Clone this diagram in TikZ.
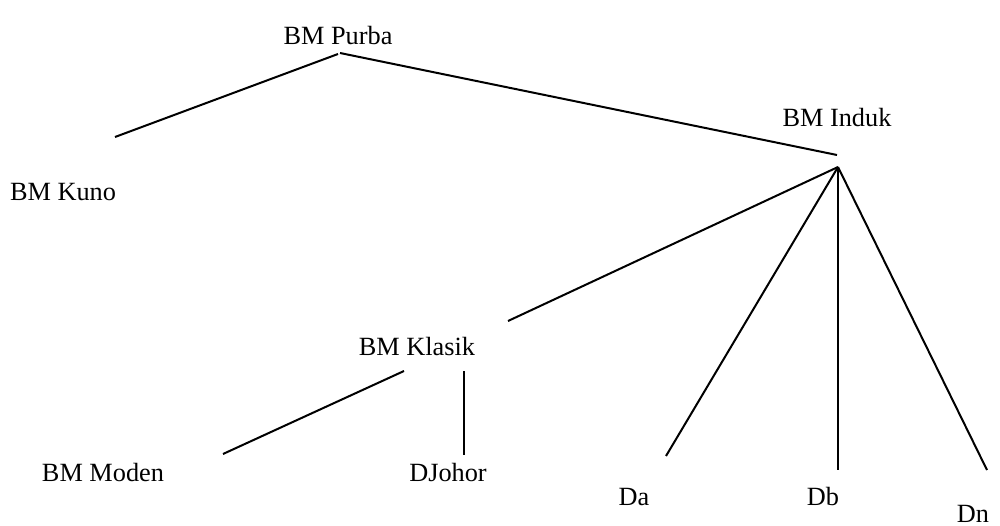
\documentclass[tikz,border=0pt]{standalone}
\usepackage{fontspec}
\setmainfont{Liberation Serif}
\begin{document}
\begin{tikzpicture}[x=1pt,y=-1pt,
  lbl/.style={anchor=base, inner sep=0pt, font=\fontsize{26.3}{30}\selectfont},
  edge/.style={line width=2pt, black}]
\useasboundingbox (0,0) rectangle (1000,526);
% labels
\node[lbl] (purba)  at (338,45)  {BM Purba};
\node[lbl] (kuno)   at (63,201)  {BM Kuno};
\node[lbl] (induk)  at (837,127) {BM Induk};
\node[lbl] (klasik) at (417,355) {BM Klasik};
\node[lbl] (moden)  at (103,481) {BM Moden};
\node[lbl] (djohor) at (448,481) {DJohor};
\node[lbl] (da)     at (634,505) {Da};
\node[lbl] (db)     at (823,505) {Db};
\node[lbl] (dn)     at (973,522) {Dn};
% connector end points
\coordinate (purbaL)   at (338,54);
\coordinate (purbaR)   at (340,53);
\coordinate (kunoE)    at (115,137);
\coordinate (indukT)   at (837,155);
\coordinate (apex)     at (838,167);
\coordinate (klasikE)  at (508,321);
\coordinate (daE)      at (666,456);
\coordinate (dbE)      at (838,470);
\coordinate (dnE)      at (987,470);
\coordinate (klasikL)  at (404,371);
\coordinate (modenE)   at (223,454);
\coordinate (klasikR)  at (464,371);
\coordinate (djohorE)  at (464,455);
% connectors
\draw[edge] (purbaL) -- (kunoE);
\draw[edge] (purbaR) -- (indukT);
\draw[edge] (apex) -- (klasikE);
\draw[edge] (apex) -- (daE);
\draw[edge] (apex) -- (dbE);
\draw[edge] (apex) -- (dnE);
\draw[edge] (klasikL) -- (modenE);
\draw[edge] (klasikR) -- (djohorE);
\end{tikzpicture}
\end{document}
